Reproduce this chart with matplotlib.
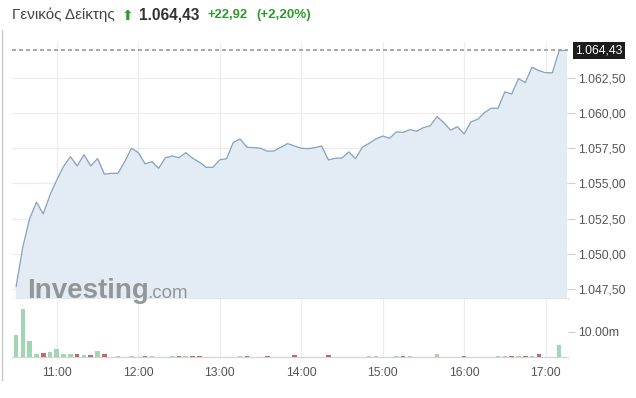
import numpy as np
import matplotlib.pyplot as plt
from matplotlib.lines import Line2D

# 5-minute bars, minutes since midnight (10:30 ... 17:15)
times = list(range(630, 1036, 5))

prices = [
    1047.67, 1050.50, 1052.50, 1053.66, 1052.83, 1054.18,  # 10:30-10:55
    1055.25, 1056.20, 1056.89, 1056.23, 1057.03, 1056.23,  # 11:00-11:25
    1056.76, 1055.65, 1055.71, 1055.71, 1056.54, 1057.49,  # 11:30-11:55
    1057.18, 1056.38, 1056.54, 1056.07, 1056.82, 1056.94,  # 12:00-12:25
    1056.82, 1057.18, 1056.78, 1056.50, 1056.14, 1056.14,  # 12:30-12:55
    1056.66, 1056.75, 1057.91, 1058.15, 1057.56, 1057.53,  # 13:00-13:25
    1057.49, 1057.28, 1057.30, 1057.56, 1057.82, 1057.65,  # 13:30-13:55
    1057.49, 1057.46, 1057.53, 1057.65, 1056.66, 1056.78,  # 14:00-14:25
    1056.80, 1057.23, 1056.75, 1057.56, 1057.84, 1058.15,  # 14:30-14:55
    1058.36, 1058.20, 1058.65, 1058.62, 1058.81, 1058.70,  # 15:00-15:25
    1058.95, 1059.09, 1059.73, 1059.31, 1058.77, 1059.02,  # 15:30-15:55
    1058.50, 1059.36, 1059.55, 1060.02, 1060.33, 1060.33,  # 16:00-16:25
    1061.49, 1061.34, 1062.43, 1062.15, 1063.24, 1063.00,  # 16:30-16:55
    1062.85, 1062.85, 1064.43, 1064.43,                    # 17:00-17:15
]

# volume in millions
volumes = [
    8.8, 19.0, 6.4, 1.2, 1.6, 2.2,
    3.2, 1.2, 1.2, 1.3, 0.8, 0.9,
    2.4, 1.3, 0.3, 0.6, 0.3, 0.7,
    0.3, 0.4, 0.5, 0.3, 0.3, 0.4,
    0.5, 0.4, 0.4, 0.4, 0.3, 0.3,
    0.2, 0.3, 0.3, 0.4, 0.4, 0.3,
    0.2, 0.4, 0.2, 0.3, 0.3, 0.8,
    0.3, 0.3, 0.3, 0.3, 0.8, 0.3,
    0.3, 0.3, 0.3, 0.3, 0.4, 0.6,
    0.3, 0.3, 0.5, 0.4, 0.4, 0.3,
    0.3, 0.3, 1.2, 0.3, 0.3, 0.3,
    0.7, 0.3, 0.3, 0.3, 0.3, 0.6,
    0.6, 0.7, 0.6, 0.6, 0.6, 1.2,
    0.2, 0.2, 4.9, 0.1,
]

hour_ticks = [660, 720, 780, 840, 900, 960, 1020]
hour_labels = ["11:00", "12:00", "13:00", "14:00", "15:00", "16:00", "17:00"]
price_ticks = [1047.5, 1050.0, 1052.5, 1055.0, 1057.5, 1060.0, 1062.5]
price_labels = ["1.047,50", "1.050,00", "1.052,50", "1.055,00", "1.057,50", "1.060,00", "1.062,50"]
last_price = 1064.43
last_label = "1.064,43"

plt.rcParams["font.family"] = ["Liberation Sans", "DejaVu Sans"]

W, H = 636, 398
fig = plt.figure(figsize=(W / 100, H / 100), dpi=100)

def px_rect(left, top, right, bottom):
    return [left / W, 1 - bottom / H, (right - left) / W, (bottom - top) / H]

ax = fig.add_axes(px_rect(12, 42, 568, 299.3))
axv = fig.add_axes(px_rect(12, 299.3, 568, 357.3), sharex=ax)

grid_c = "#ececec"
line_c = "#86a3c0"
fill_c = "#e3ecf5"
text_c = "#555555"
tick_fs = 8.8

# price pane
ax.fill_between(times, prices, 1040, color=fill_c, zorder=1)
ax.plot(times, prices, color=line_c, lw=0.9, zorder=3)
ax.axhline(last_price, color="#9a9a9a", lw=1.2, linestyle=(0, (2.4, 1.8)), zorder=4)
ax.set_xlim(627, 1036.5)
ax.set_ylim(1046.77, 1065.03)
ax.set_yticks(price_ticks)
ax.set_yticklabels(price_labels)
ax.yaxis.tick_right()
ax.tick_params(axis="y", length=5, width=0.8, color="#cccccc", pad=2,
               labelsize=tick_fs, labelcolor=text_c)
ax.tick_params(axis="x", length=0, labelbottom=False)
ax.set_xticks(hour_ticks)
ax.grid(True, color=grid_c, lw=0.8, zorder=0)
ax.set_axisbelow(True)
for s in ["top", "left", "right"]:
    ax.spines[s].set_visible(False)
ax.spines["bottom"].set_color("#c8c8c8")
ax.spines["bottom"].set_linewidth(0.9)

ax.text(1.0 + 7 / 556, last_price, last_label, transform=ax.get_yaxis_transform(),
        ha="left", va="center", color="white", fontsize=tick_fs,
        bbox=dict(boxstyle="square,pad=0.2", fc="#1c1c1c", ec="none"), zorder=6,
        clip_on=False)

# volume pane
diffs = np.diff([prices[0]] + prices)
bar_colors = ["#a2d5b3" if d >= 0 else "#c9636c" for d in diffs]
axv.bar(times, volumes, width=3.4, color=bar_colors, zorder=3)
axv.set_ylim(0, 22.7)
axv.set_yticks([10])
axv.set_yticklabels(["10.00m"])
axv.yaxis.tick_right()
axv.tick_params(axis="y", length=5, width=0.8, color="#cccccc", pad=2,
                labelsize=tick_fs, labelcolor=text_c)
axv.set_xticks(hour_ticks)
axv.set_xticklabels(hour_labels)
axv.tick_params(axis="x", length=0, pad=7, labelsize=tick_fs, labelcolor=text_c)
axv.grid(True, axis="x", color=grid_c, lw=0.8, zorder=0)
axv.set_axisbelow(True)
for s in ["top", "left", "right"]:
    axv.spines[s].set_visible(False)
axv.spines["bottom"].set_color("#d4d4d4")
axv.spines["bottom"].set_linewidth(0.9)

# watermark
fig.text(27 / W, 1 - 298 / H, "Investing", fontsize=20, fontweight="bold",
         color="#8c8c8c", alpha=0.9, ha="left", va="baseline", zorder=10)
fig.text(147 / W, 1 - 298 / H, ".com", fontsize=13.5, color="#8c8c8c",
         alpha=0.9, ha="left", va="baseline", zorder=10)

# header
fig.text(12.5 / W, 1 - 15 / H, "Γενικός Δείκτης", fontsize=11, color="#444444",
         ha="left", va="center")
fig.text(122 / W, 1 - 16 / H, "⬆", fontsize=10, color="#2e9a2a",
         family="DejaVu Sans", ha="left", va="center")
fig.text(139 / W, 1 - 15 / H, "1.064,43", fontsize=11.2, fontweight="bold",
         color="#333333", ha="left", va="center")
fig.text(208 / W, 1 - 15 / H, "+22,92", fontsize=9.4, fontweight="bold",
         color="#2e9a2a", ha="left", va="center")
fig.text(256 / W, 1 - 15 / H, "(+2,20%)", fontsize=9.6, fontweight="bold",
         color="#2e9a2a", ha="left", va="center")

# left frame border
fig.add_artist(Line2D([1.5 / W, 1.5 / W], [1 - 30 / H, 1 - 380 / H],
                      color="#c8c8c8", lw=1.0))

fig.savefig("out.png", dpi=100)
